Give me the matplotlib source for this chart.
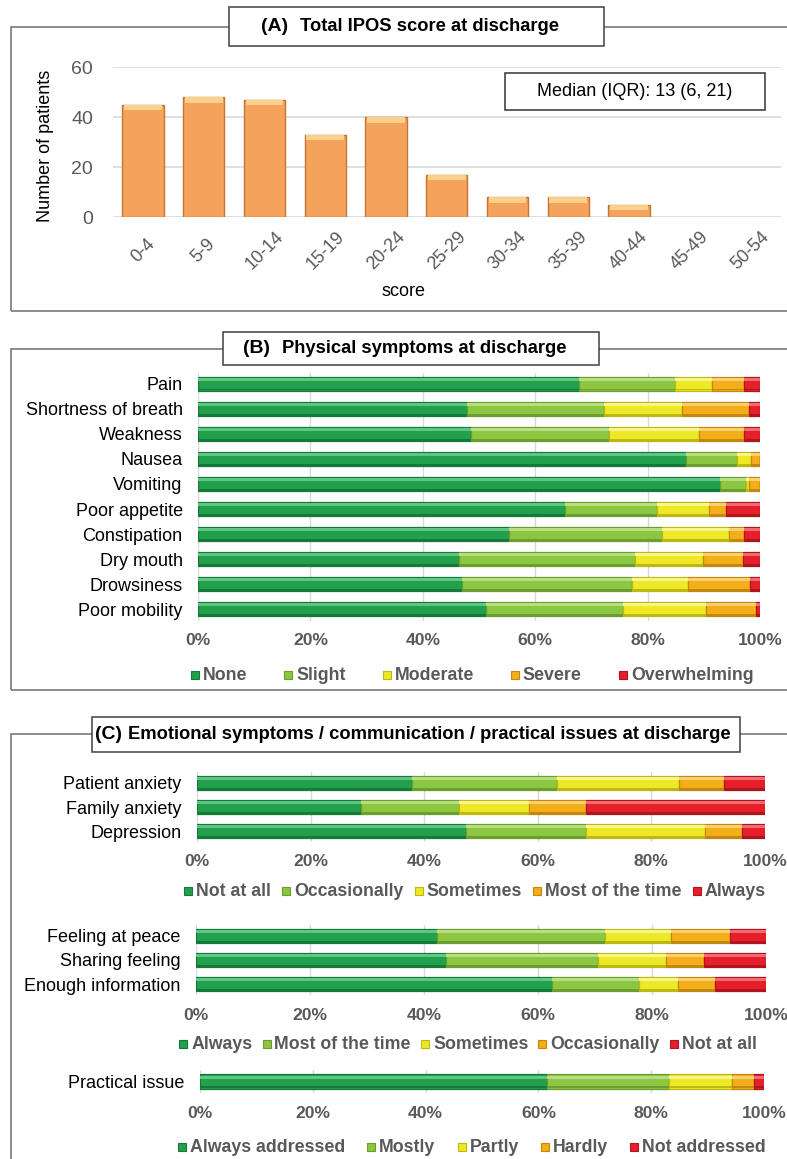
import numpy as np
import matplotlib
matplotlib.use("Agg")
import matplotlib.pyplot as plt
from matplotlib.patches import Rectangle

plt.rcParams['font.family'] = ['Liberation Sans', 'DejaVu Sans']

# ---- data ----
score_bins = ['0-4', '5-9', '10-14', '15-19', '20-24', '25-29', '30-34',
              '35-39', '40-44', '45-49', '50-54']
score_counts = [45, 48, 47, 33, 40, 17, 8, 8, 5, 0, 0]

phys_items = ['Pain', 'Shortness of breath', 'Weakness', 'Nausea', 'Vomiting',
              'Poor appetite', 'Constipation', 'Dry mouth', 'Drowsiness',
              'Poor mobility']
phys_levels = ['None', 'Slight', 'Moderate', 'Severe', 'Overwhelming']
phys_none = [67.8, 47.8, 48.6, 86.8, 92.8, 65.3, 55.4, 46.5, 47.0, 51.3]
phys_slight = [17.0, 24.4, 24.6, 9.1, 4.7, 16.3, 27.1, 31.2, 30.3, 24.3]
phys_moderate = [6.7, 13.9, 16.0, 2.5, 0.5, 9.3, 11.9, 12.1, 9.9, 14.8]
phys_severe = [5.6, 11.9, 8.0, 1.6, 2.0, 3.0, 2.7, 7.1, 11.1, 8.8]
phys_overwhelming = [2.9, 2.0, 2.8, 0.0, 0.0, 6.1, 2.9, 3.1, 1.7, 0.8]

emo_items = ['Patient anxiety', 'Family anxiety', 'Depression']
emo_levels = ['Not at all', 'Occasionally', 'Sometimes', 'Most of the time', 'Always']
emo_not_at_all = [37.8, 28.9, 47.4]
emo_occasionally = [25.5, 17.3, 21.1]
emo_sometimes = [21.5, 12.3, 21.0]
emo_most = [8.0, 9.9, 6.4]
emo_always = [7.2, 31.6, 4.1]

comm_items = ['Feeling at peace', 'Sharing feeling', 'Enough information']
comm_levels = ['Always', 'Most of the time', 'Sometimes', 'Occasionally', 'Not at all']
comm_always = [42.2, 43.8, 62.5]
comm_most = [29.6, 26.7, 15.2]
comm_sometimes = [11.5, 11.9, 6.8]
comm_occasionally = [10.3, 6.8, 6.6]
comm_not_at_all = [6.4, 10.8, 8.9]

prac_items = ['Practical issue']
prac_levels = ['Always addressed', 'Mostly', 'Partly', 'Hardly', 'Not addressed']
prac_always = [61.6]
prac_mostly = [21.6]
prac_partly = [11.2]
prac_hardly = [3.9]
prac_not = [1.7]

# green -> red palette (base, edge, highlight)
base_cols = ['#22A04B', '#8DC641', '#EEE926', '#F4AE1A', '#E5202B']
edge_cols = ['#15793A', '#6B9E2E', '#BDB812', '#C4880E', '#B0151E']
light_cols = ['#5EC582', '#B8DE84', '#F8F58E', '#F9D070', '#F06A70']

GRAY = '#595959'
W, H = 787, 1159
fig = plt.figure(figsize=(W / 100, H / 100), dpi=100)
renderer = fig.canvas.get_renderer()


def box(x0, y0, x1, y1):
    return [x0 / W, 1 - y1 / H, (x1 - x0) / W, (y1 - y0) / H]


def frame(x0, y0, x1, y1, ec='#6E6E6E', fc='none', z=0, lw=1.1):
    fig.patches.append(Rectangle((x0 / W, 1 - y1 / H), (x1 - x0) / W, (y1 - y0) / H,
                                 transform=fig.transFigure, fill=(fc != 'none'),
                                 facecolor=fc, edgecolor=ec, lw=lw, zorder=z))


def title(x0, y0, x1, y1, tag, text, xtag, xtext):
    frame(x0, y0, x1, y1, ec='#404040', fc='white', z=2)
    yc = 1 - (y0 + y1) / 2 / H
    fig.text(xtag / W, yc, tag, fontsize=14, fontweight='bold', va='center', zorder=3)
    fig.text(xtext / W, yc, text, fontsize=13.2, fontweight='bold', va='center', zorder=3)


def stacked(ax, items, series, h):
    y = np.arange(len(items))
    left = np.zeros(len(items))
    for k, vals in enumerate(series):
        vals = np.array(vals)
        ax.barh(y, vals, left=left, height=h, color=base_cols[k],
                edgecolor=edge_cols[k], linewidth=0.9, zorder=2)
        ax.barh(y - h * 0.30, vals, left=left, height=h * 0.22,
                color=light_cols[k], linewidth=0, zorder=3)
        ax.barh(y + h * 0.40, vals, left=left, height=h * 0.14,
                color=edge_cols[k], linewidth=0, zorder=3)
        left += vals
    ax.set_xlim(0, 100)
    ax.set_ylim(len(items) - 0.5 - (1 - h) * 0.1, -0.5 + (1 - h) * 0.1)
    ax.set_yticks(y)
    ax.set_yticklabels(items, fontsize=13, color='black')
    ax.set_xticks(np.arange(0, 101, 20))
    ax.set_xticklabels([f'{v}%' for v in range(0, 101, 20)], fontsize=12.6,
                       fontweight='bold', color=GRAY)
    ax.tick_params(axis='y', length=0, pad=11)
    ax.tick_params(axis='x', length=0, pad=9)
    for s in ax.spines.values():
        s.set_visible(False)
    ax.grid(axis='x', color='#D9D9D9', lw=1)
    ax.set_axisbelow(True)


def legend(labels, cx, cy, gap):
    # one row of small squares + bold grey labels, centred on cx, sharing a baseline
    texts = [fig.text(0, 0, lab, fontsize=12.8, fontweight='bold', color=GRAY,
                      va='baseline') for lab in labels]
    widths = [t.get_window_extent(renderer).width for t in texts]
    sq, tpad = 8, 4
    total = sum(sq + tpad + w for w in widths) + gap * (len(labels) - 1)
    x = cx - total / 2
    base = cy + 6
    for k, (t, w) in enumerate(zip(texts, widths)):
        fig.patches.append(Rectangle((x / W, 1 - (base - 1) / H), sq / W, sq / H,
                                     transform=fig.transFigure, facecolor=base_cols[k],
                                     edgecolor=edge_cols[k], lw=0.8))
        t.set_position(((x + sq + tpad) / W, 1 - base / H))
        x += sq + tpad + w + gap


# ---- (A) total score histogram ----
frame(11, 27, 820, 311)
title(229, 7, 604, 46, '(A)', 'Total IPOS score at discharge', 261, 300)

axA = fig.add_axes(box(112.6, 67, 781, 217))
xs = np.arange(len(score_bins))
counts = np.array(score_counts)
shown = counts > 0
axA.bar(xs[shown], counts[shown], width=0.68, color='#F5A25B', edgecolor='#C27536',
        linewidth=1.0, zorder=2)
cap = np.minimum(counts[shown], 2.2)
axA.bar(xs[shown], cap, bottom=counts[shown] - cap, width=0.62, color='#FBCF8C',
        linewidth=0, zorder=3)
axA.set_xlim(-0.5, len(score_bins) - 0.5)
axA.set_ylim(0, 60)
axA.set_yticks([0, 20, 40, 60])
axA.tick_params(axis='y', length=0, pad=14, labelsize=14, labelcolor=GRAY)
axA.set_xticks(xs)
axA.set_xticklabels(score_bins, rotation=45, ha='center', va='center',
                    fontsize=13, color=GRAY)
axA.tick_params(axis='x', length=0, pad=24)
for s in axA.spines.values():
    s.set_visible(False)
axA.grid(axis='y', color='#D9D9D9', lw=1.2)
axA.set_axisbelow(True)
fig.text(46 / W, 1 - 146 / H, 'Number of patients', rotation=90, fontsize=13,
         ha='center', va='center')
fig.text(404 / W, 1 - 292 / H, 'score', fontsize=13, ha='center', va='center')
frame(505, 73, 765, 110, ec='#333333', fc='white', z=2)
fig.text(635 / W, 1 - 91.5 / H, 'Median (IQR): 13 (6, 21)', fontsize=13,
         ha='center', va='center', zorder=3)

# ---- (B) physical symptoms ----
frame(11, 349, 820, 690)
title(223, 332, 599, 365, '(B)', 'Physical symptoms at discharge', 243, 282)

axB = fig.add_axes(box(198, 372.5, 760, 620.5))
stacked(axB, phys_items, [phys_none, phys_slight, phys_moderate, phys_severe,
                          phys_overwhelming], 0.56)
legend(phys_levels, 472, 674, 37)

# ---- (C) emotional / communication / practical ----
frame(11, 734, 820, 1250)
title(92, 717, 740, 752, '(C)', 'Emotional symptoms / communication / practical issues at discharge',
      95, 128)

axC1 = fig.add_axes(box(197, 772, 765, 842))
stacked(axC1, emo_items, [emo_not_at_all, emo_occasionally, emo_sometimes,
                          emo_most, emo_always], 0.58)
legend(emo_levels, 475, 890, 11)

axC2 = fig.add_axes(box(196, 925, 766, 995))
stacked(axC2, comm_items, [comm_always, comm_most, comm_sometimes,
                           comm_occasionally, comm_not_at_all], 0.58)
legend(comm_levels, 468, 1043, 10)

axC3 = fig.add_axes(box(200, 1070, 764, 1093))
stacked(axC3, prac_items, [prac_always, prac_mostly, prac_partly,
                           prac_hardly, prac_not], 0.58)
legend(prac_levels, 472, 1146, 22)

fig.savefig('out.png', dpi=100)
